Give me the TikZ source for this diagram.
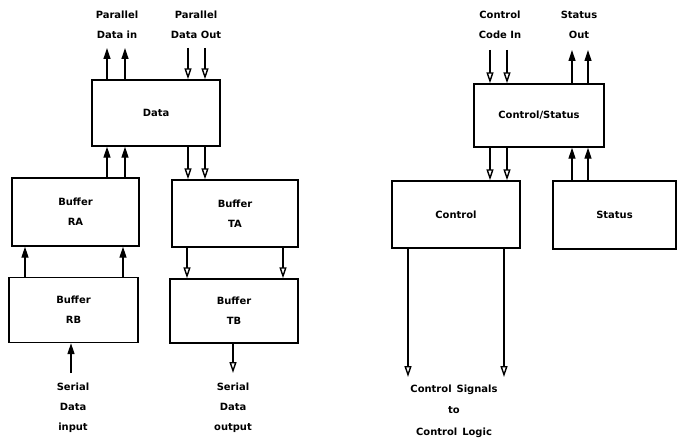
\documentclass[tikz,border=0pt]{standalone}
\usepackage{fontspec}
\setmainfont{DejaVu Sans}
\usetikzlibrary{arrows.meta}
\begin{document}
\begin{tikzpicture}[x=1bp,y=-1bp,
  box/.style={draw,line width=1.4pt,inner sep=0pt,font=\bfseries\fontsize{10}{20}\selectfont,align=center},
  lbl/.style={inner sep=0pt,font=\bfseries\fontsize{10}{20}\selectfont,align=center},
  dn/.style={line width=1.2pt,-{Triangle[open,length=11pt,width=7pt,line width=1.4pt]}},
  upa/.style={line width=1.2pt,-{Triangle[length=11pt,width=7pt]}}]
\useasboundingbox (0,0) rectangle (677,442);
% boxes
\node[box,minimum width=128bp,minimum height=66bp] (data) at (156,113) {Data};
\node[box,minimum width=127bp,minimum height=68bp] (ra) at (75.5,212) {Buffer\\RA};
\node[box,minimum width=126bp,minimum height=67bp] (ta) at (235,213.5) {Buffer\\TA};
\node[box,minimum width=129bp,minimum height=65bp] (rb) at (73.5,310) {Buffer\\RB};
\node[box,minimum width=128bp,minimum height=64bp] (tb) at (234,311) {Buffer\\TB};
\node[box,minimum width=130bp,minimum height=63bp] (cs) at (539,115.5) {Control/Status};
\node[box,minimum width=128bp,minimum height=67bp] (ctl) at (456,214.5) {Control};
\node[box,minimum width=123bp,minimum height=68bp] (st) at (614.5,215) {Status};
% labels
\node[lbl] (pin) at (117,25) {Parallel\\Data in};
\node[lbl] (pout) at (196,25) {Parallel\\Data Out};
\node[lbl] (cin) at (500,25) {Control\\Code In};
\node[lbl] (sout) at (579,25) {Status\\Out};
\node[lbl] (sin) at (73,408) {Serial\\Data\\input};
\node[lbl] (sdo) at (233,408) {Serial\\Data\\output};
\node[lbl,font=\bfseries\fontsize{10}{21.5}\selectfont] (cl) at (454,411) {Control\hspace{0.5em}Signals\\to\\Control\hspace{0.5em}Logic};
% coordinates
\coordinate (t1) at (107,48); \coordinate (t2) at (125,48);
\coordinate (t3) at (188,48); \coordinate (t4) at (205,48);
\coordinate (t5) at (490,50); \coordinate (t6) at (507,50);
\coordinate (t7) at (572,50); \coordinate (t8) at (588,50);
\coordinate (b1) at (71,373); \coordinate (b2) at (233,373);
\coordinate (c1) at (408,377); \coordinate (c2) at (504,377);
% top arrows
\draw[upa] (data.north -| t1) -- (t1);
\draw[upa] (data.north -| t2) -- (t2);
\draw[dn] (t3) -- (data.north -| t3);
\draw[dn] (t4) -- (data.north -| t4);
\draw[dn] (t5) -- (cs.north -| t5);
\draw[dn] (t6) -- (cs.north -| t6);
\draw[upa] (cs.north -| t7) -- (t7);
\draw[upa] (cs.north -| t8) -- (t8);
% data <-> buffers
\draw[upa] (ra.north -| t1) -- (data.south -| t1);
\draw[upa] (ra.north -| t2) -- (data.south -| t2);
\draw[dn] (data.south -| t3) -- (ta.north -| t3);
\draw[dn] (data.south -| t4) -- (ta.north -| t4);
\draw[upa] (rb.north -| 25,0) -- (ra.south -| 25,0);
\draw[upa] (rb.north -| 123,0) -- (ra.south -| 123,0);
\draw[dn] (ta.south -| 187,0) -- (tb.north -| 187,0);
\draw[dn] (ta.south -| 283,0) -- (tb.north -| 283,0);
\draw[upa] (b1) -- (rb.south -| b1);
\draw[dn] (tb.south -| b2) -- (b2);
% control side
\draw[dn] (cs.south -| t5) -- (ctl.north -| t5);
\draw[dn] (cs.south -| t6) -- (ctl.north -| t6);
\draw[upa] (st.north -| t7) -- (cs.south -| t7);
\draw[upa] (st.north -| t8) -- (cs.south -| t8);
\draw[dn] (ctl.south -| c1) -- (c1);
\draw[dn] (ctl.south -| c2) -- (c2);
\end{tikzpicture}
\end{document}
